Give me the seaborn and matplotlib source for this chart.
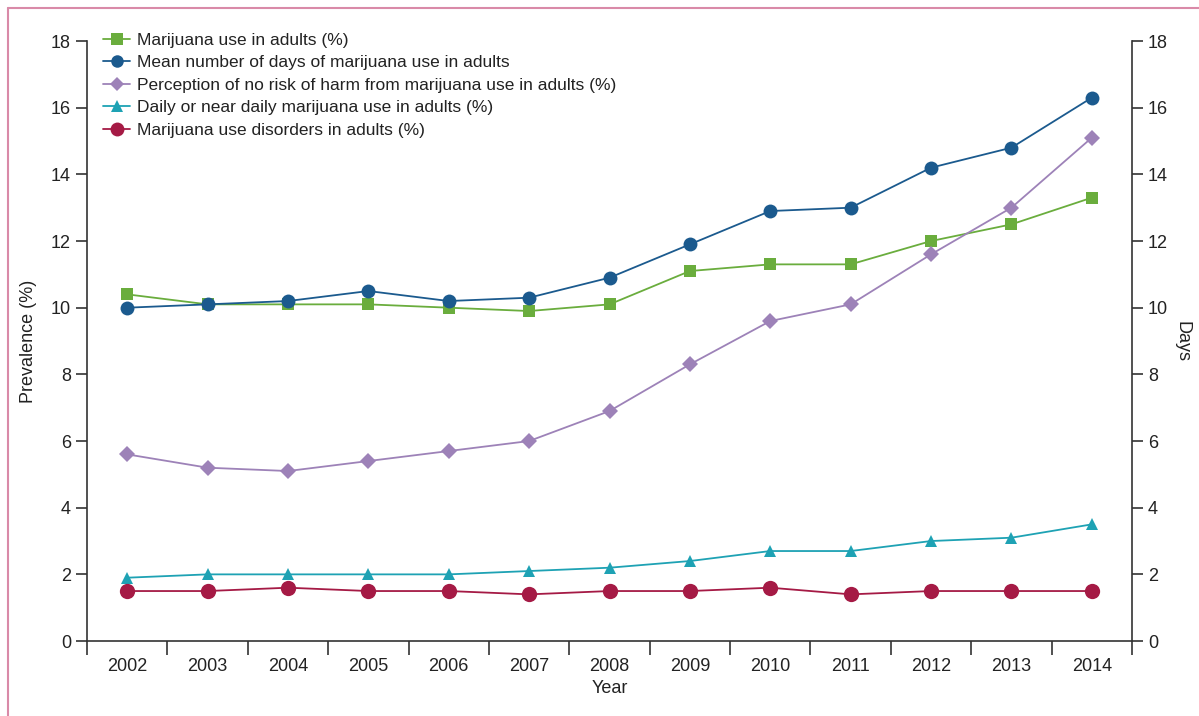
import matplotlib
matplotlib.use("Agg")
import matplotlib.pyplot as plt
import seaborn as sns
import pandas as pd
import numpy as np
from matplotlib.lines import Line2D

years = [2002, 2003, 2004, 2005, 2006, 2007, 2008, 2009, 2010, 2011, 2012, 2013, 2014]
use_adults = [10.4, 10.1, 10.1, 10.1, 10.0, 9.9, 10.1, 11.1, 11.3, 11.3, 12.0, 12.5, 13.3]
mean_days = [10.0, 10.1, 10.2, 10.5, 10.2, 10.3, 10.9, 11.9, 12.9, 13.0, 14.2, 14.8, 16.3]
no_risk = [5.6, 5.2, 5.1, 5.4, 5.7, 6.0, 6.9, 8.3, 9.6, 10.1, 11.6, 13.0, 15.1]
daily_use = [1.9, 2.0, 2.0, 2.0, 2.0, 2.1, 2.2, 2.4, 2.7, 2.7, 3.0, 3.1, 3.5]
disorders = [1.5, 1.5, 1.6, 1.5, 1.5, 1.4, 1.5, 1.5, 1.6, 1.4, 1.5, 1.5, 1.5]

labels = [
    "Marijuana use in adults (%)",
    "Mean number of days of marijuana use in adults",
    "Perception of no risk of harm from marijuana use in adults (%)",
    "Daily or near daily marijuana use in adults (%)",
    "Marijuana use disorders in adults (%)",
]
colors = ["#6aad3d", "#1b5a8e", "#9d82b8", "#1ea2b4", "#a51a45"]
markers = ["s", "o", "D", "^", "o"]
msizes = [9, 10, 8, 9, 11]

sns.set_style("ticks")
plt.rcParams["font.family"] = ["Liberation Sans", "DejaVu Sans"]
plt.rcParams["text.color"] = "#222222"
plt.rcParams["axes.labelcolor"] = "#222222"
plt.rcParams["xtick.color"] = "#222222"
plt.rcParams["ytick.color"] = "#222222"

fig = plt.figure(figsize=(11.99, 7.16), dpi=100)
ax = fig.add_axes([0.0726, 0.1047, 0.8715, 0.838])

idx = np.arange(len(years))
series = [use_adults, mean_days, no_risk, daily_use, disorders]
for vals, lab, c, m, ms in zip(series, labels, colors, markers, msizes):
    df = pd.DataFrame({"x": idx, "y": vals})
    sns.lineplot(data=df, x="x", y="y", ax=ax, color=c, marker=m, markersize=ms,
                 markeredgewidth=0, linewidth=1.3, label=lab)

ax.set_xlim(-0.5, len(years) - 0.5)
ax.set_ylim(0, 18)
ax.set_yticks(range(0, 19, 2))
ax.set_xticks(idx)
ax.set_xticklabels([str(y) for y in years], fontsize=13)
ax.set_xticks(np.arange(-0.5, len(years), 1.0), minor=True)
ax.tick_params(axis="x", which="major", length=0, pad=12)
ax.tick_params(axis="x", which="minor", length=10, width=1.2, direction="out", color="#333333")
ax.tick_params(axis="y", length=8, width=1.2, labelsize=13, color="#333333")
ax.spines["top"].set_visible(False)
ax.spines["right"].set_visible(False)
for s in ["left", "bottom"]:
    ax.spines[s].set_linewidth(1.2)
    ax.spines[s].set_color("#333333")
ax.set_xlabel("Year", fontsize=13, labelpad=4)
ax.set_ylabel("Prevalence (%)", fontsize=13, labelpad=10)

ax2 = ax.twinx()
ax2.set_ylim(0, 18)
ax2.set_yticks(range(0, 19, 2))
ax2.tick_params(axis="y", length=8, width=1.2, labelsize=13, color="#333333")
for s in ["top", "left", "bottom"]:
    ax2.spines[s].set_visible(False)
ax2.spines["right"].set_linewidth(1.2)
ax2.spines["right"].set_color("#333333")
ax2.set_ylabel("Days", fontsize=13, rotation=270, labelpad=16)

handles = [Line2D([0], [0], color=c, marker=m, markersize=ms - 1, markeredgewidth=0, linewidth=1.3)
           for c, m, ms in zip(colors, markers, msizes)]
ax.legend(handles, labels, loc="upper left", bbox_to_anchor=(0.0, 1.04), frameon=False,
          fontsize=12.5, handlelength=1.6, handletextpad=0.4, labelspacing=0.42, borderaxespad=0.5)

# pink frame
fig.add_artist(Line2D([0.007, 1.0], [0.989, 0.989], color="#d98aa8", linewidth=1.5, transform=fig.transFigure))
fig.add_artist(Line2D([0.007, 0.007], [0.0, 0.989], color="#d98aa8", linewidth=1.5, transform=fig.transFigure))

fig.savefig("out.png", dpi=100)
